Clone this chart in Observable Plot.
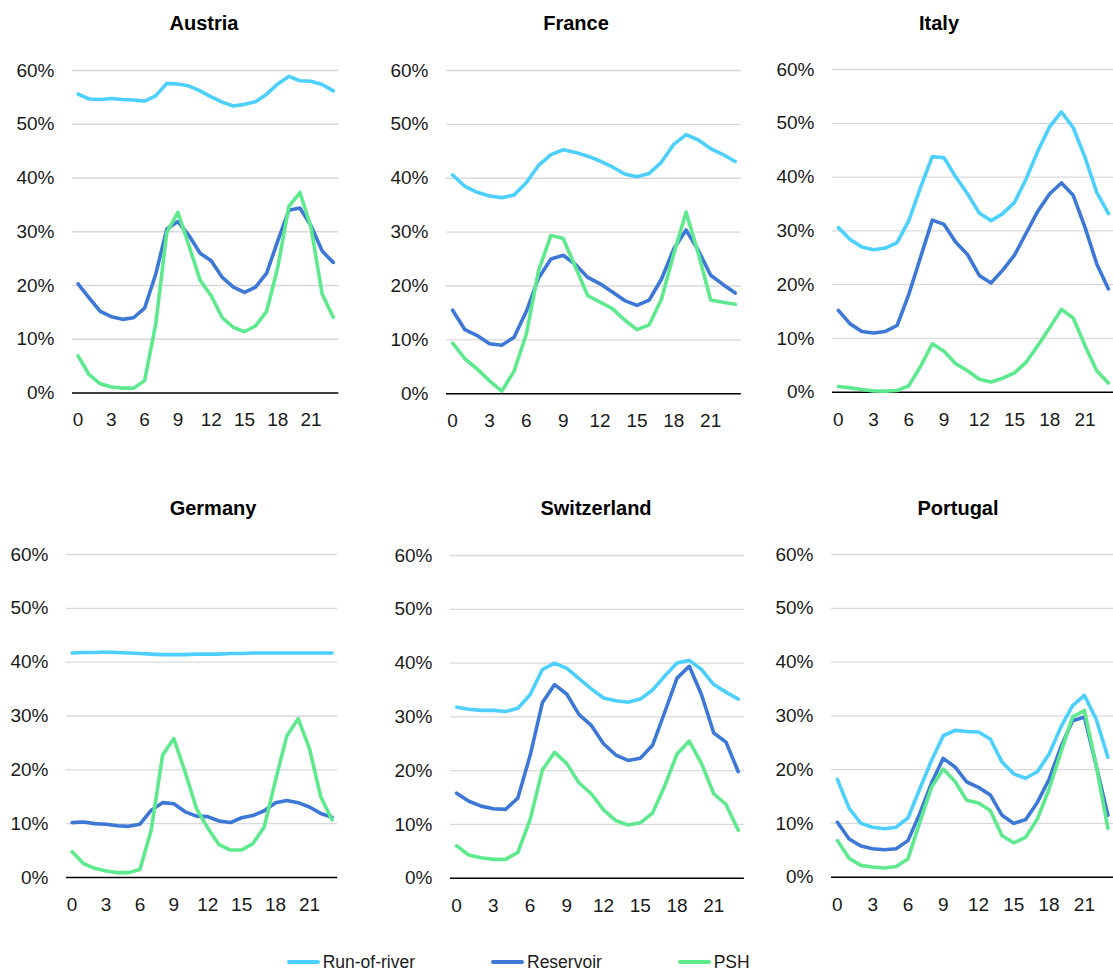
<!DOCTYPE html>
<html>
<head>
<meta charset="utf-8">
<script src="https://cdn.jsdelivr.net/npm/d3@7"></script>
<script src="https://cdn.jsdelivr.net/npm/@observablehq/plot@0.6"></script>
<style>
  html, body { margin: 0; padding: 0; background: #ffffff; }
  body { width: 1113px; height: 972px; overflow: hidden; position: relative;
         font-family: "Liberation Sans", Arial, Helvetica, sans-serif; color: #1a1a1a; }
  .title { position: absolute; font-weight: bold; font-size: 20px; line-height: 20px;
           transform: translateX(-50%); white-space: nowrap; color: #000; }
  .legend-item { position: absolute; display: flex; align-items: center; font-size: 17.5px;
                 line-height: 20px; white-space: nowrap; color: #1a1a1a; }
  .swatch { width: 33px; height: 4px; border-radius: 2px; margin-right: 3px; }
</style>
</head>
<body>
<script>
// ---------- data ----------
const hours = [0, 1, 2, 3, 4, 5, 6, 7, 8, 9, 10, 11, 12, 13, 14, 15, 16, 17, 18, 19, 20, 21, 22, 23];
const hourTicks = [0, 3, 6, 9, 12, 15, 18, 21];
const percentTicks = [0, 10, 20, 30, 40, 50, 60];
const seriesNames = ["Run-of-river", "Reservoir", "PSH"];
const seriesColors = ["#4dd0ff", "#3d78d6", "#5fe98e"];
const countries = ["Austria", "France", "Italy", "Germany", "Switzerland", "Portugal"];

const austriaRunOfRiver = [55.6, 54.7, 54.6, 54.8, 54.6, 54.5, 54.3, 55.3, 57.6, 57.5, 57.1, 56.2, 55.1, 54.1, 53.4, 53.7, 54.2, 55.6, 57.5, 58.9, 58.1, 58.0, 57.4, 56.2];
const austriaReservoir  = [20.3, 17.7, 15.2, 14.2, 13.7, 14.0, 15.8, 22.1, 30.5, 31.9, 29.3, 26.0, 24.6, 21.5, 19.7, 18.7, 19.7, 22.3, 28.3, 34.0, 34.4, 31.1, 26.4, 24.3];
const austriaPSH        = [6.9, 3.4, 1.7, 1.1, 0.9, 0.9, 2.3, 12.8, 29.9, 33.6, 27.4, 21.0, 18.1, 14.0, 12.2, 11.4, 12.5, 15.2, 23.4, 34.7, 37.3, 30.8, 18.4, 14.1];

const franceRunOfRiver = [40.6, 38.5, 37.4, 36.7, 36.4, 36.9, 39.2, 42.4, 44.4, 45.3, 44.8, 44.1, 43.2, 42.1, 40.8, 40.3, 40.9, 43.0, 46.3, 48.1, 47.1, 45.5, 44.4, 43.1];
const franceReservoir  = [15.5, 11.9, 10.8, 9.3, 9.0, 10.5, 15.3, 21.5, 25.0, 25.7, 24.0, 21.6, 20.4, 18.9, 17.3, 16.4, 17.4, 21.3, 26.9, 30.4, 26.6, 22.0, 20.3, 18.7];
const francePSH        = [9.4, 6.5, 4.6, 2.4, 0.5, 4.2, 11.1, 22.9, 29.4, 28.8, 23.5, 18.2, 17.0, 15.8, 13.7, 11.9, 12.8, 17.6, 26.0, 33.7, 26.0, 17.4, 17.0, 16.6];

const italyRunOfRiver = [30.6, 28.4, 27.0, 26.5, 26.8, 27.8, 31.9, 38.1, 43.8, 43.6, 40.0, 36.9, 33.3, 31.9, 33.2, 35.3, 39.7, 44.9, 49.4, 52.1, 49.2, 43.7, 37.2, 33.2];
const italyReservoir  = [15.2, 12.7, 11.3, 11.0, 11.3, 12.4, 18.2, 25.1, 32.0, 31.2, 27.9, 25.6, 21.7, 20.3, 22.7, 25.5, 29.6, 33.7, 36.9, 38.9, 36.6, 30.7, 23.9, 19.2];
const italyPSH        = [1.05, 0.8, 0.5, 0.25, 0.2, 0.3, 1.2, 4.8, 9.0, 7.6, 5.3, 4.0, 2.4, 1.9, 2.6, 3.6, 5.6, 8.7, 12.0, 15.4, 13.8, 8.7, 4.0, 1.7];

const germanyRunOfRiver = [41.7, 41.8, 41.8, 41.9, 41.8, 41.7, 41.6, 41.5, 41.4, 41.4, 41.4, 41.5, 41.5, 41.5, 41.6, 41.6, 41.7, 41.7, 41.7, 41.7, 41.7, 41.7, 41.7, 41.7];
const germanyReservoir  = [10.2, 10.3, 10.0, 9.9, 9.6, 9.5, 9.9, 12.5, 13.9, 13.7, 12.2, 11.4, 11.3, 10.5, 10.2, 11.1, 11.5, 12.4, 13.9, 14.3, 13.9, 13.1, 11.9, 11.2];
const germanyPSH        = [4.8, 2.6, 1.7, 1.2, 0.9, 0.9, 1.5, 8.8, 22.7, 25.8, 19.6, 12.8, 9.2, 6.1, 5.1, 5.1, 6.3, 9.4, 18.1, 26.3, 29.5, 24.0, 15.0, 10.7];

const switzerlandRunOfRiver = [31.8, 31.4, 31.2, 31.2, 31.0, 31.6, 34.1, 38.8, 40.0, 39.0, 37.1, 35.2, 33.5, 33.0, 32.7, 33.3, 35.0, 37.6, 40.0, 40.5, 38.8, 36.0, 34.6, 33.3];
const switzerlandReservoir  = [15.8, 14.3, 13.4, 12.9, 12.8, 14.9, 22.8, 32.6, 36.0, 34.2, 30.4, 28.4, 25.0, 22.9, 21.9, 22.3, 24.7, 30.9, 37.2, 39.4, 34.1, 27.0, 25.3, 19.8];
const switzerlandPSH        = [6.0, 4.3, 3.8, 3.5, 3.5, 4.8, 10.9, 20.1, 23.4, 21.3, 17.7, 15.7, 12.7, 10.7, 9.9, 10.3, 12.1, 17.2, 23.1, 25.5, 21.3, 15.7, 13.7, 8.9];

const portugalRunOfRiver = [18.2, 12.8, 10.0, 9.3, 9.0, 9.3, 11.0, 16.4, 21.7, 26.3, 27.3, 27.1, 27.0, 25.7, 21.4, 19.2, 18.4, 19.6, 22.9, 27.9, 31.9, 33.8, 29.4, 22.3];
const portugalReservoir  = [10.2, 7.1, 5.8, 5.3, 5.1, 5.3, 6.8, 11.8, 17.5, 22.1, 20.5, 17.7, 16.7, 15.3, 11.5, 10.0, 10.7, 13.9, 18.2, 24.2, 29.1, 29.8, 20.8, 11.5];
const portugalPSH        = [6.8, 3.5, 2.2, 1.9, 1.7, 2.0, 3.4, 10.2, 16.7, 20.1, 17.8, 14.3, 13.8, 12.4, 7.7, 6.4, 7.4, 10.8, 16.4, 23.2, 29.8, 31.0, 20.8, 9.1];

const countrySeries = [
  [austriaRunOfRiver, austriaReservoir, austriaPSH],
  [franceRunOfRiver, franceReservoir, francePSH],
  [italyRunOfRiver, italyReservoir, italyPSH],
  [germanyRunOfRiver, germanyReservoir, germanyPSH],
  [switzerlandRunOfRiver, switzerlandReservoir, switzerlandPSH],
  [portugalRunOfRiver, portugalReservoir, portugalPSH]
];

// ---------- layout (pixel placement of each small multiple) ----------
const panelLayout = [
  { left: 71.7,  right: 338.0,  y60: 69.5,  y0: 392.0, titleX: 204, titleTop: 13 },
  { left: 445.6, right: 740.5,  y60: 70.0,  y0: 393.3, titleX: 576, titleTop: 13 },
  { left: 831.8, right: 1113.6, y60: 69.0,  y0: 391.7, titleX: 939, titleTop: 13 },
  { left: 66.3,  right: 337.5,  y60: 554.3, y0: 877.3, titleX: 213, titleTop: 497.5 },
  { left: 449.9, right: 743.8,  y60: 555.0, y0: 877.7, titleX: 596, titleTop: 497.5 },
  { left: 831.4, right: 1113.7, y60: 554.0, y0: 876.7, titleX: 958, titleTop: 497.5 }
];
const legendLayout = [
  { x: 286.7, y: 961.7 },
  { x: 491.0, y: 961.7 },
  { x: 677.7, y: 961.7 }
];

// ---------- drawing ----------
const font = "'Liberation Sans', Arial, Helvetica, sans-serif";

countries.forEach((name, ci) => {
  const L = panelLayout[ci];
  const rows = [];
  seriesNames.forEach((s, si) => {
    const arr = countrySeries[ci][si];
    hours.forEach((h, i) => rows.push({ hour: h, value: arr[i], series: s }));
  });
  const ml = 80, mr = 2, mt = 20, mb = 50;
  const width = (L.right - L.left) + ml + mr;
  const height = (L.y0 - L.y60) + mt + mb;
  const chart = Plot.plot({
    width, height,
    marginLeft: ml, marginRight: mr, marginTop: mt, marginBottom: mb,
    style: { fontFamily: font, fontSize: "19px", color: "#1a1a1a", background: "transparent", overflow: "visible" },
    x: { domain: [-0.5, 23.5], axis: null },
    y: { domain: [0, 60], axis: null },
    color: { domain: seriesNames, range: seriesColors },
    marks: [
      Plot.ruleY(percentTicks.filter(d => d > 0), { stroke: "#d9d9d9", strokeWidth: 1.3 }),
      Plot.ruleY([0], { stroke: "#000000", strokeWidth: 1.6 }),
      Plot.line(rows, { x: "hour", y: "value", z: "series", stroke: "series",
                        strokeWidth: 3.6, strokeLinejoin: "round", strokeLinecap: "round" }),
      Plot.axisY({ ticks: percentTicks, tickSize: 0, tickPadding: 18, tickFormat: d => d + "%", label: null }),
      Plot.axisX({ ticks: hourTicks, tickSize: 0, tickPadding: 20, tickFormat: d => String(d), label: null })
    ]
  });
  chart.style.position = "absolute";
  chart.style.left = (L.left - ml) + "px";
  chart.style.top = (L.y60 - mt) + "px";
  document.body.appendChild(chart);

  const t = document.createElement("div");
  t.className = "title";
  t.textContent = name;
  t.style.left = L.titleX + "px";
  t.style.top = L.titleTop + "px";
  document.body.appendChild(t);
});

seriesNames.forEach((s, i) => {
  const item = document.createElement("div");
  item.className = "legend-item";
  item.style.left = legendLayout[i].x + "px";
  item.style.top = (legendLayout[i].y - 10) + "px";
  const sw = document.createElement("div");
  sw.className = "swatch";
  sw.style.background = seriesColors[i];
  const label = document.createElement("span");
  label.textContent = s;
  item.appendChild(sw);
  item.appendChild(label);
  document.body.appendChild(item);
});
</script>
</body>
</html>
